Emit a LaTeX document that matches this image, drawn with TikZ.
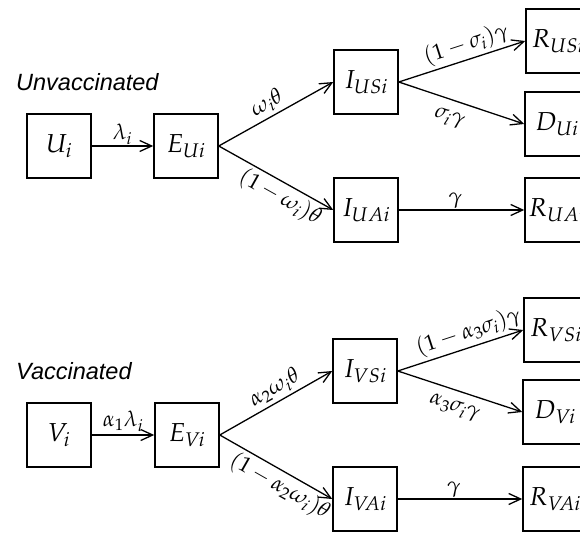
\documentclass[tikz,border=0pt]{standalone}
\usepackage{mathpazo}
\usepackage{fontspec}
\newfontfamily\lblfont{Liberation Sans}
\usetikzlibrary{arrows.meta}
\begin{document}
\begin{tikzpicture}[x=1pt,y=-1pt,
 box/.style={draw, line width=1.5pt, minimum width=64pt, minimum height=64pt, inner sep=0pt, font=\fontsize{26}{30}\selectfont},
 flow/.style={line width=1.3pt, -{Straight Barb[length=12pt,width=11pt,line width=1.3pt]}},
 rate/.style={font=\fontsize{22}{24}\selectfont, inner sep=1pt},
 srate/.style={rate, sloped, inner sep=3pt},
 grp/.style={font=\lblfont\itshape\fontsize{23.5}{26}\selectfont, anchor=west, inner sep=0pt}]
\useasboundingbox (0,0) rectangle (580,534);
\clip (0,0) rectangle (580,534);
% Unvaccinated
\node[grp] (tU) at (16,82) {Unvaccinated};
\node[box] (U) at (59,146) {$U_i$};
\node[box] (EU) at (186,146) {$E_{Ui}$};
\node[box] (IUS) at (366,82) {$I_{USi}$};
\node[box] (RUS) at (558,41) {$R_{USi}$};
\node[box] (DU) at (557,124) {$D_{Ui}$};
\node[box] (IUA) at (366,210) {$I_{UAi}$};
\node[box] (RUA) at (557,210) {$R_{UAi}$};
\draw[flow] (U) -- node[rate,above]{$\lambda_i$} (EU);
\draw[flow] (EU.east) -- node[srate,above,pos=0.48]{$\omega_i\theta$} (IUS.west);
\draw[flow] (EU.east) -- node[srate,below,pos=0.6]{$(1-\omega_i)\theta$} (IUA.west);
\draw[flow] (IUS.east) -- node[srate,above,pos=0.57]{$(1-\sigma_i)\gamma$} (RUS.west);
\draw[flow] (IUS.east) -- node[srate,below=7pt,pos=0.45]{$\sigma_i\gamma$} (DU.west);
\draw[flow] (IUA) -- node[rate,above,pos=0.45]{$\gamma$} (RUA);
% Vaccinated
\node[grp] (tV) at (16,371) {Vaccinated};
\node[box] (V) at (59,435) {$V_i$};
\node[box] (EV) at (187,435) {$E_{Vi}$};
\node[box] (IVS) at (365,371) {$I_{VSi}$};
\node[box] (RVS) at (556,330) {$R_{VSi}$};
\node[box] (DV) at (555,412) {$D_{Vi}$};
\node[box] (IVA) at (365,499) {$I_{VAi}$};
\node[box] (RVA) at (555,499) {$R_{VAi}$};
\draw[flow] (V) -- node[rate,above,inner sep=3pt]{$\alpha_1\lambda_i$} (EV);
\draw[flow] (EV.east) -- node[srate,above,pos=0.55]{$\alpha_2\omega_i\theta$} (IVS.west);
\draw[flow] (EV.east) -- node[srate,below,pos=0.6]{$(1-\alpha_2\omega_i)\theta$} (IVA.west);
\draw[flow] (IVS.east) -- node[srate,above,pos=0.6]{$(1-\alpha_3\sigma_i)\gamma$} (RVS.west);
\draw[flow] (IVS.east) -- node[srate,below=6pt,pos=0.5]{$\alpha_3\sigma_i\gamma$} (DV.west);
\draw[flow] (IVA) -- node[rate,above,pos=0.45]{$\gamma$} (RVA);
\end{tikzpicture}
\end{document}
